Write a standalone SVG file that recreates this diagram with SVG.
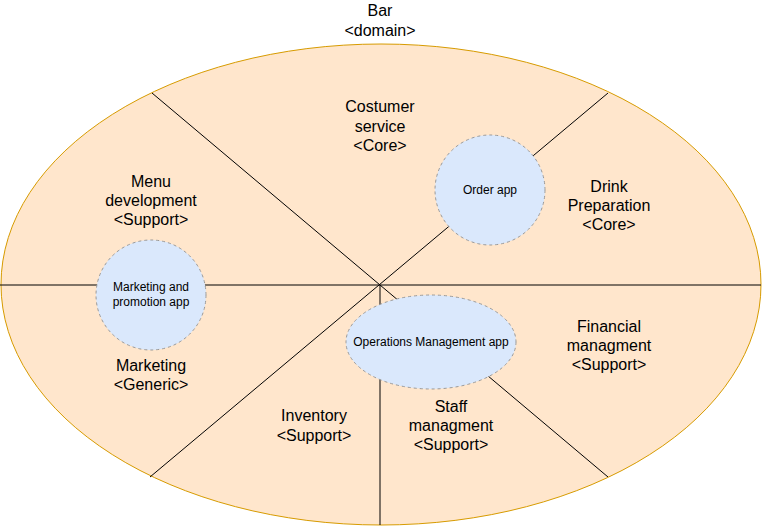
<svg xmlns="http://www.w3.org/2000/svg" width="762" height="527" viewBox="0 0 762 527">
<style>
.lbl{font-family:"Liberation Sans",Arial,sans-serif;font-size:16px;fill:#000;text-anchor:middle}
.app{font-family:"Liberation Sans",Arial,sans-serif;font-size:12px;fill:#000;text-anchor:middle}
.ln{stroke:#000;stroke-width:1;fill:none}
.appshape{fill:#dae8fc;stroke:#999999;stroke-width:1;stroke-dasharray:3 3}
</style>
<g id="domain">
<ellipse cx="381" cy="284.5" rx="380" ry="240.5" fill="#ffe6cc" stroke="#d79b00" stroke-width="1"/>
<text class="lbl" x="380" y="16">Bar</text>
<text class="lbl" x="380" y="36">&lt;domain&gt;</text>
</g>
<g id="connectors">
<line class="ln" x1="0" y1="285" x2="761" y2="285"/>
<line class="ln" x1="152" y1="93" x2="608" y2="477"/>
<line class="ln" x1="608" y1="93" x2="150" y2="477"/>
<line class="ln" x1="380" y1="285" x2="380" y2="525"/>
</g>
<g id="costumer-service">
<text class="lbl" x="380" y="112">Costumer</text>
<text class="lbl" x="380" y="131.5">service</text>
<text class="lbl" x="380" y="151">&lt;Core&gt;</text>
</g>
<g id="menu-development">
<text class="lbl" x="151" y="187">Menu</text>
<text class="lbl" x="151" y="206">development</text>
<text class="lbl" x="151" y="225">&lt;Support&gt;</text>
</g>
<g id="drink-preparation">
<text class="lbl" x="609" y="192">Drink</text>
<text class="lbl" x="609" y="211">Preparation</text>
<text class="lbl" x="609" y="230">&lt;Core&gt;</text>
</g>
<g id="marketing">
<text class="lbl" x="151" y="371">Marketing</text>
<text class="lbl" x="151" y="390">&lt;Generic&gt;</text>
</g>
<g id="financial">
<text class="lbl" x="609" y="332">Financial</text>
<text class="lbl" x="609" y="351">managment</text>
<text class="lbl" x="609" y="370">&lt;Support&gt;</text>
</g>
<g id="inventory">
<text class="lbl" x="314" y="421">Inventory</text>
<text class="lbl" x="314" y="441">&lt;Support&gt;</text>
</g>
<g id="staff">
<text class="lbl" x="451" y="412">Staff</text>
<text class="lbl" x="451" y="431">managment</text>
<text class="lbl" x="451" y="450">&lt;Support&gt;</text>
</g>
<g id="order-app">
<circle class="appshape" cx="490" cy="190" r="55"/>
<text class="app" x="490" y="194">Order app</text>
</g>
<g id="marketing-app">
<circle class="appshape" cx="151" cy="295" r="55"/>
<text class="app" x="151" y="291">Marketing and</text>
<text class="app" x="151" y="306">promotion app</text>
</g>
<g id="operations-app">
<ellipse class="appshape" cx="431" cy="342" rx="85" ry="47"/>
<text class="app" x="431" y="346">Operations Management app</text>
</g>
</svg>
